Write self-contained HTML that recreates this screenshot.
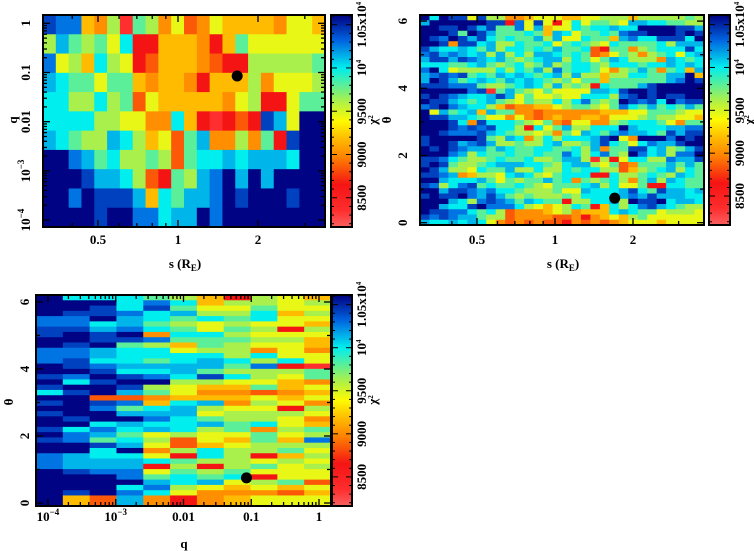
<!DOCTYPE html>
<html><head><meta charset="utf-8"><style>
html,body{margin:0;padding:0;background:#fff;}
svg{display:block;}
text{font-family:"Liberation Serif",serif;font-weight:bold;font-size:13px;fill:#000;}
</style></head><body>
<svg id="fig" width="754" height="551" viewBox="0 0 754 551" xmlns="http://www.w3.org/2000/svg"></svg>
<script>
// chi^2 value for each colour code (0 = highest chi^2 ... c = lowest)
const codeKeys = ["0","1","2","3","4","5","6","7","8","9","a","b","c"];
const codeChi = [10600,10420,10280,10130,10000,9800,9620,9450,9180,9020,8850,8650,8350];

// Panel 1: s (cols, 22) vs q (rows, 11, top -> bottom)
const p1Rows = [
"122896c5697a9788889778",
"6356574bb8889b85777777",
"2768467ba8889abb666665",
"345575589889b888697776",
"4466465a788888976bb755",
"444466779948bcbab13700",
"3456634687a5399695b100",
"0023546656a54434333400",
"00013346ab563203030000",
"0020111384533201000100",
"0000100224330200000000"
];
// Panel 2: s (cols, 30) vs theta (rows, 40, top -> bottom)
const p2Rows = [
"040117166998777887766686666656",
"300000011b2717b747556733445566",
"001101315527387745443440000113",
"000150135554583475545211000101",
"012013145455363774558324411140",
"001911436645547545674555546333",
"134434536445453554ab5596544414",
"213234363646334545a97569654743",
"311312343565433645753466693454",
"444554356546536544564445443434",
"204766664645362544579653595483",
"321215453434543636686644553308",
"301354345343456575585555553201",
"111222566543463656b45553100000",
"0000021c535675777733410010000",
"101234431375776774446210101100",
"011345435675664642565012140211",
"210234468a99887655675245354535",
"073543835599a99999988877555677",
"011334577979a98998897776566778",
"000149144456759a7799654445795",
"00012121446b475366444034443322",
"001222134566769573453233451311",
"100000156349646444310790002010",
"100132136656643665314574233100",
"010123353455445546395511436531",
"000236455455455246425602436220",
"112456654554665336c6b744662331",
"101566543334456433675a95553535",
"013667455366466454466a86543645",
"112398667434675444bb4665456345",
"003444357565535495654695363455",
"126421545545675554364775bb4455",
"003112324456665773444314513343",
"101102313565666564444323133344",
"000346212353455b66443601104334",
"003441022246787645b84642134566",
"011224546a99987698884345576667",
"121233566a9999aa9b987865777777",
"344343479a9a9aab9a9a9877787777"
];
// Panel 3: q (cols, 11) vs theta (rows, 40, top -> bottom)
const p3Rows = [
"0444568b678","00042486676","00141577577","01124366486","22034545477",
"22435676778","113245756b6","10109446777","00112555668","01056856778",
"22344766979","22344446477","21445434647","012333352bc","00144356665",
"12012414675","04100667789","10016788587","41035799a98","00aa9888787",
"10128439679","002543677b6","10033376667","01002456679","00434435478",
"14243465965","02357677576","12546a78582","00137a87666","00409646657",
"23447b46b86","23334566767","2333b6b6576","01227565777","00025454b77",
"00003437 65a".replace(" ",""),"00042678787","01024799 9a8".replace(" ",""),"08a39b98777","08a39b98777"
];
const p1Dot = {s:1.67, q:0.085};
const p2Dot = {s:1.70, th:0.73};
const p3Dot = {q:0.085, th:0.75};
const cbTicks = [10500,10000,9500,9000,8500];
const cbMin = 8162, cbMax = 10612;

const NS = "http://www.w3.org/2000/svg";
const svg = document.getElementById("fig");
function el(tag, attrs, parent){
  const e = document.createElementNS(NS, tag);
  for (const k in attrs) e.setAttribute(k, attrs[k]);
  (parent||svg).appendChild(e);
  return e;
}
function chiOf(c){ const i = codeKeys.indexOf(c); return i<0 ? 10000 : codeChi[i]; }
const stops = [[0,[250,95,95]],[0.08,[255,45,45]],[0.2,[245,20,20]],[0.33,[255,130,0]],[0.42,[255,190,0]],[0.5,[255,250,0]],[0.6,[165,240,80]],[0.75,[0,238,238]],[0.88,[0,100,225]],[1,[0,0,128]]];
function color(chi){
  let t = (chi-cbMin)/(cbMax-cbMin); t = Math.max(0,Math.min(1,t));
  for (let i=1;i<stops.length;i++){
    if (t<=stops[i][0]){
      const a=stops[i-1], b=stops[i], f=(t-a[0])/(b[0]-a[0]);
      const c=a[1].map((v,j)=>Math.round(v+(b[1][j]-v)*f));
      return "rgb("+c.join(",")+")";
    }
  }
  return "rgb(0,0,128)";
}

const P1 = {x0:43,x1:325,y0:15,y1:227,ylog:true,
  xs:v=>178+80*Math.log2(v), ys:v=>23.3-49.2*Math.log10(v),
  xinv:p=>Math.pow(2,(p-178)/80), yinv:p=>Math.pow(10,(23.3-p)/49.2)};
const P2 = {x0:420,x1:704,y0:15,y1:225,ylog:false,
  xs:v=>555+78*Math.log2(v), ys:v=>222.7-33.6*v,
  xinv:p=>Math.pow(2,(p-555)/78), yinv:p=>(222.7-p)/33.6};
const P3 = {x0:36,x1:331,y0:295,y1:506,ylog:false,
  xs:v=>319+67.75*Math.log10(v), ys:v=>503-33.5*v,
  xinv:p=>Math.pow(10,(p-319)/67.75), yinv:p=>(503-p)/33.5};

const log2T = v=>Math.log2(v); log2T.inv = u=>Math.pow(2,u);
const log10T = v=>Math.log10(v); log10T.inv = u=>Math.pow(10,u);

function heatmap(P, rows, nC, name, xLog){
  const g = el("g",{});
  
  
  const nR = rows.length;
  const xa = xLog(P.xinv(P.x0)), xb = xLog(P.xinv(P.x1));
  const ya = P.yinv(P.y0), yb = P.yinv(P.y1);
  const yfa = P.ylog? Math.log10(ya):ya, yfb = P.ylog? Math.log10(yb):yb;
  rows.forEach((row,r)=>{
    for (let c=0;c<nC;c++){
      const code = c<row.length ? row[c] : row[row.length-1];
      const xl = P.xs(xLog.inv(xa+(xb-xa)*c/nC));
      const xr = P.xs(xLog.inv(xa+(xb-xa)*(c+1)/nC));
      const yt_v = yfa+(yfb-yfa)*r/nR, yb_v = yfa+(yfb-yfa)*(r+1)/nR;
      const yt = P.ys(P.ylog?Math.pow(10,yt_v):yt_v), ybp = P.ys(P.ylog?Math.pow(10,yb_v):yb_v);
      const rect = el("rect",{x:xl.toFixed(2),y:yt.toFixed(2),width:(xr-xl+0.5).toFixed(2),height:(ybp-yt+0.5).toFixed(2),fill:color(chiOf(code))},g);
      
      
    }
  });
}
heatmap(P1, p1Rows, 22, "s-q-map", log2T);
heatmap(P2, p2Rows, 30, "s-theta-map", log2T);
heatmap(P3, p3Rows, 11, "q-theta-map", log10T);

function frame(P,name){
  const r = el("rect",{x:P.x0,y:P.y0,width:P.x1-P.x0,height:P.y1-P.y0,fill:"none",stroke:"#000","stroke-width":2});
  
  
}
function xTick(P,v,len){
  const x=P.xs(v); if(x<P.x0||x>P.x1) return;
  el("line",{x1:x,y1:P.y1,x2:x,y2:P.y1-len,stroke:"#000","stroke-width":1.3});
  el("line",{x1:x,y1:P.y0,x2:x,y2:P.y0+len,stroke:"#000","stroke-width":1.3});
}
function yTick(P,v,len){
  const y=P.ys(v); if(y<P.y0||y>P.y1) return;
  el("line",{x1:P.x0,y1:y,x2:P.x0+len,y2:y,stroke:"#000","stroke-width":1.3});
  el("line",{x1:P.x1,y1:y,x2:P.x1-len,y2:y,stroke:"#000","stroke-width":1.3});
}
function xLabel(P,v,html,y,name){
  const t = el("text",{x:P.xs(v),y:y,"text-anchor":"middle"});
  t.innerHTML = html;
  
  
}
function yLabel(P,v,html,x,name){
  const y=P.ys(v);
  const t = el("text",{x:0,y:0,"text-anchor":"middle",transform:`translate(${x},${y}) rotate(-90)`});
  t.innerHTML = html;
  
  
}
function title(x,y,html,rot,name){
  const t = el("text",{x:0,y:0,"text-anchor":"middle",transform:`translate(${x},${y})`+(rot?" rotate(-90)":"")});
  t.innerHTML = html;
  
  
}
const sMajor=[0.5,1,2], sMinor=[0.4,0.6,0.7,0.8,0.9,3];
const qMajor=[1e-4,1e-3,1e-2,1e-1,1];
const qMajorLab=['10<tspan dy="-6" font-size="9">−4</tspan>','10<tspan dy="-6" font-size="9">−3</tspan>','0.01','0.1','1'];
const thMajor=[0,2,4,6], thMinor=[1,3,5];

frame(P1,"s-q-plot");
sMajor.forEach(v=>xTick(P1,v,7)); sMinor.forEach(v=>xTick(P1,v,4));
qMajor.forEach(v=>yTick(P1,v,7));
qMajor.forEach(v=>{for(let k=2;k<10;k++) yTick(P1,v*k,4);});
sMajor.forEach(v=>xLabel(P1,v,String(v),244,"x-tick-label"));
qMajor.forEach((v,i)=>yLabel(P1,v,qMajorLab[i],30,"y-tick-label"));
title(185,268,'s (R<tspan dy="3" font-size="9">E</tspan><tspan dy="-3">)</tspan>',false,"x-axis-title");
title(17,120,"q",true,"y-axis-title");

frame(P2,"s-theta-plot");
sMajor.forEach(v=>xTick(P2,v,7)); sMinor.forEach(v=>xTick(P2,v,4));
thMajor.forEach(v=>yTick(P2,v,7)); thMinor.forEach(v=>yTick(P2,v,4));
sMajor.forEach(v=>xLabel(P2,v,String(v),244,"x-tick-label"));
thMajor.forEach(v=>yLabel(P2,v,String(v),407,"y-tick-label"));
title(563,268,'s (R<tspan dy="3" font-size="9">E</tspan><tspan dy="-3">)</tspan>',false,"x-axis-title");
title(391,120,"θ",true,"y-axis-title");

frame(P3,"q-theta-plot");
qMajor.forEach(v=>xTick(P3,v,7));
qMajor.forEach(v=>{for(let k=2;k<10;k++) xTick(P3,v*k,4);});
thMajor.forEach(v=>yTick(P3,v,7)); thMinor.forEach(v=>yTick(P3,v,4));
qMajor.forEach((v,i)=>xLabel(P3,v,qMajorLab[i],521,"x-tick-label"));
thMajor.forEach(v=>yLabel(P3,v,String(v),29,"y-tick-label"));
title(184,548,"q",false,"x-axis-title");
title(13,402,"θ",true,"y-axis-title");

[[P1,p1Dot.s,p1Dot.q],[P2,p2Dot.s,p2Dot.th],[P3,p3Dot.q,p3Dot.th]].forEach(([P,a,b])=>{
  const d = el("circle",{cx:P.xs(a),cy:P.ys(b),r:5.5,fill:"#000"});
  
  
});

function colorbar(x0,x1,y0,y1,labX,titleX){
  const cs = v=>y1-(v-cbMin)/(cbMax-cbMin)*(y1-y0);
  const g = el("g",{});
  
  
  for (let y=y0;y<y1;y+=1){
    const v = cbMin+(y1-y-0.5)/(y1-y0)*(cbMax-cbMin);
    el("rect",{x:x0,y:y,width:x1-x0,height:1.2,fill:color(v)},g);
  }
  el("rect",{x:x0,y:y0,width:x1-x0,height:y1-y0,fill:"none",stroke:"#000","stroke-width":2},g);
  for (let v=8200; v<=10600; v+=100){
    const y=cs(v); const L = v%500===0?6:3;
    el("line",{x1:x0,y1:y,x2:x0+L,y2:y,stroke:"#000","stroke-width":1},g);
    el("line",{x1:x1,y1:y,x2:x1-L,y2:y,stroke:"#000","stroke-width":1},g);
  }
  const labs = ['1.05x10<tspan dy="-5" font-size="7">4</tspan>','10<tspan dy="-5" font-size="7">4</tspan>','9500','9000','8500'];
  cbTicks.forEach((v,i)=>{
    const t = el("text",{x:0,y:0,"text-anchor":"middle","font-size":"10",transform:`translate(${labX},${cs(v)}) rotate(-90)`});
    t.innerHTML = labs[i];
    
    
  });
  const tt = el("text",{x:0,y:0,"text-anchor":"middle","font-size":"11",transform:`translate(${titleX},${y0+105}) rotate(-90)`});
  tt.innerHTML = 'χ<tspan dy="-4" font-size="7">2</tspan>';
  
  
}
colorbar(331,352,15,227,366,377);
colorbar(709,730,15,225,744,753);
colorbar(332,352,295,506,366,377);
</script>
</body></html>
